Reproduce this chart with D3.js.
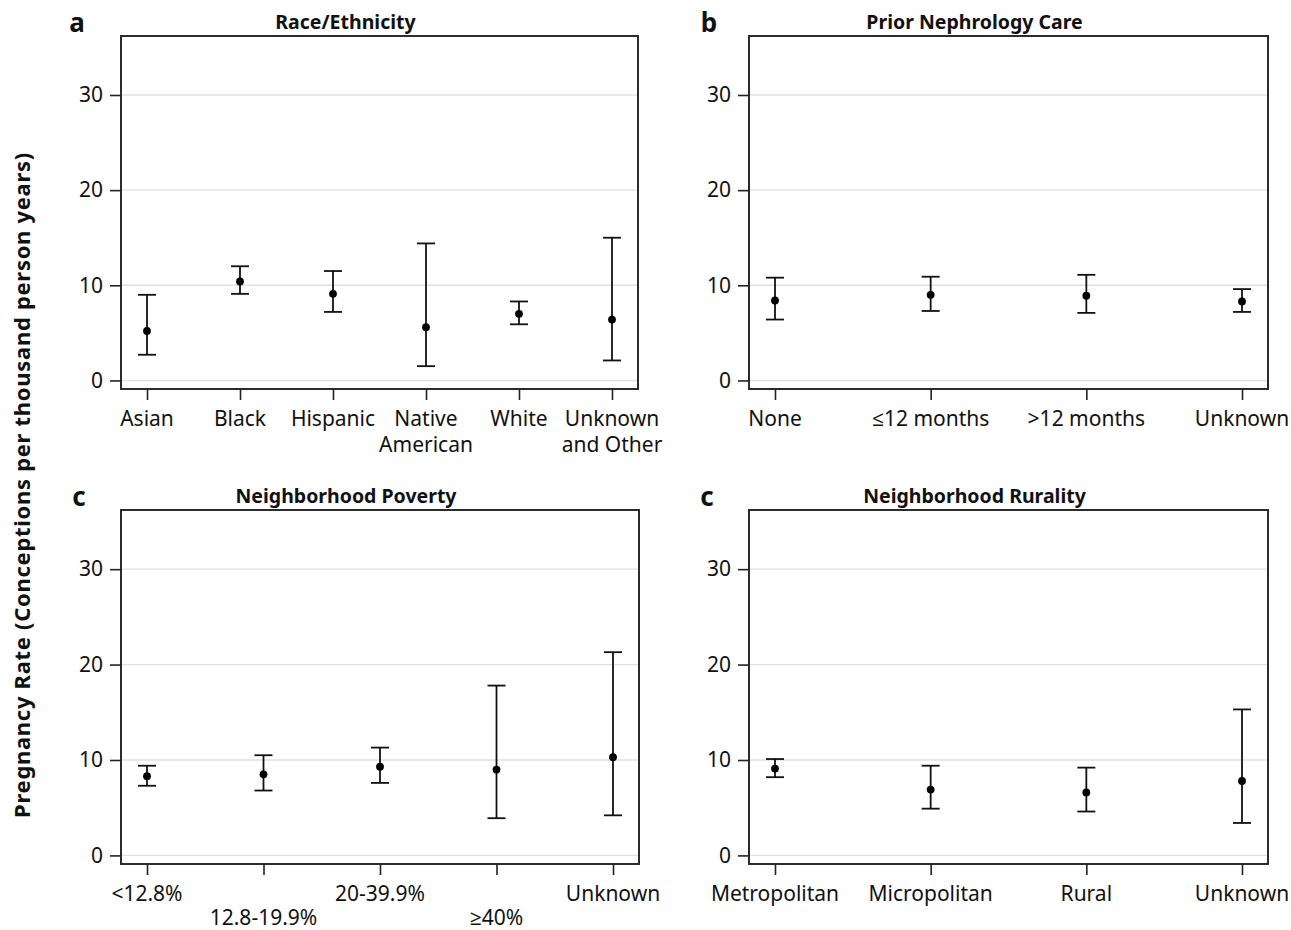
<!DOCTYPE html>
<html>
<head>
<meta charset="utf-8">
<script src="https://cdn.jsdelivr.net/npm/d3@7"></script>
<style>
  body { margin: 0; background: #fff; }
  text { font-family: "Noto Sans", "Open Sans", sans-serif; fill: #111; }
</style>
</head>
<body>
<script>
// ---- data ----
const raceCats = ["Asian", "Black", "Hispanic", "Native\nAmerican", "White", "Unknown\nand Other"]
const raceRate = [5.2, 10.4, 9.1, 5.6, 7.0, 6.4]
const raceLow = [2.7, 9.1, 7.2, 1.5, 5.9, 2.1]
const raceHigh = [9.0, 12.0, 11.5, 14.4, 8.3, 15.0]

const nephCats = ["None", "≤12 months", ">12 months", "Unknown"]
const nephRate = [8.4, 9.0, 8.9, 8.3]
const nephLow = [6.4, 7.3, 7.1, 7.2]
const nephHigh = [10.8, 10.9, 11.1, 9.6]

const povCats = ["<12.8%", "12.8-19.9%", "20-39.9%", "≥40%", "Unknown"]
const povRate = [8.3, 8.5, 9.3, 9.0, 10.3]
const povLow = [7.3, 6.8, 7.6, 3.9, 4.2]
const povHigh = [9.4, 10.5, 11.3, 17.8, 21.3]

const ruralCats = ["Metropolitan", "Micropolitan", "Rural", "Unknown"]
const ruralRate = [9.1, 6.9, 6.6, 7.8]
const ruralLow = [8.2, 4.9, 4.6, 3.4]
const ruralHigh = [10.1, 9.4, 9.2, 15.3]

const yTicks = [0, 10, 20, 30]
const yDomain = [-0.9, 36.2]

// ---- layout ----
const width = 1291
const height = 930

const svg = d3.select("body").append("svg")
  .attr("width", width)
  .attr("height", height)

function drawPanel(opt) {
  const { left, right, top, bottom, letter, title, cats, rate, low, high, stagger } = opt

  const x = d3.scalePoint().domain(cats).range([left + 26, right - 26])
  const y = d3.scaleLinear().domain(yDomain).range([bottom, top])

  const g = svg.append("g")

  // gridlines
  g.append("g").selectAll("line")
    .data(yTicks)
    .join("line")
      .attr("x1", left).attr("x2", right)
      .attr("y1", d => y(d)).attr("y2", d => y(d))
      .attr("stroke", "#e0e0e0")
      .attr("stroke-width", 1.4)

  // y axis
  const ya = g.append("g")
    .attr("transform", `translate(${left},0)`)
    .call(d3.axisLeft(y).tickValues(yTicks).tickSize(11).tickPadding(7))
  ya.select(".domain").remove()
  ya.selectAll(".tick line").attr("stroke", "#222").attr("stroke-width", 1.6)
  ya.selectAll(".tick text")
    .style("font-size", "21px")
    .attr("fill", "#111")

  // x axis
  const xa = g.append("g")
    .attr("transform", `translate(0,${bottom})`)
    .call(d3.axisBottom(x).tickSize(11).tickFormat(""))
  xa.select(".domain").remove()
  xa.selectAll(".tick line").attr("stroke", "#222").attr("stroke-width", 1.6)

  const lab = g.append("g").selectAll("text")
    .data(cats)
    .join("text")
      .attr("x", d => x(d))
      .attr("y", (d, i) => bottom + 37 + (stagger && i % 2 === 1 ? 24 : 0))
      .attr("text-anchor", "middle")
      .style("font-size", "21px")
  lab.each(function(d) {
    const parts = d.split("\n")
    d3.select(this).selectAll("tspan")
      .data(parts)
      .join("tspan")
        .attr("x", x(d))
        .attr("dy", (p, j) => j === 0 ? 0 : 26)
        .text(p => p)
  })

  // frame
  g.append("rect")
    .attr("x", left).attr("y", top)
    .attr("width", right - left).attr("height", bottom - top)
    .attr("fill", "none")
    .attr("stroke", "#222")
    .attr("stroke-width", 1.9)

  // error bars
  const idx = d3.range(cats.length)
  const eb = g.append("g").attr("stroke", "#111").attr("stroke-width", 1.8)
  eb.selectAll(".v").data(idx).join("line")
    .attr("x1", i => x(cats[i])).attr("x2", i => x(cats[i]))
    .attr("y1", i => y(low[i])).attr("y2", i => y(high[i]))
  eb.selectAll(".hi").data(idx).join("line")
    .attr("x1", i => x(cats[i]) - 9).attr("x2", i => x(cats[i]) + 9)
    .attr("y1", i => y(high[i])).attr("y2", i => y(high[i]))
  eb.selectAll(".lo").data(idx).join("line")
    .attr("x1", i => x(cats[i]) - 9).attr("x2", i => x(cats[i]) + 9)
    .attr("y1", i => y(low[i])).attr("y2", i => y(low[i]))

  g.append("g").selectAll("circle")
    .data(idx)
    .join("circle")
      .attr("cx", i => x(cats[i]))
      .attr("cy", i => y(rate[i]))
      .attr("r", 3.9)
      .attr("fill", "#000")

  // title + panel letter
  g.append("text")
    .attr("x", (left - 68 + right) / 2)
    .attr("y", top - 7)
    .attr("text-anchor", "middle")
    .style("font-size", "19.5px")
    .style("font-weight", "bold")
    .text(title)

  g.append("text")
    .attr("x", letter.x)
    .attr("y", top - 4)
    .attr("text-anchor", "middle")
    .style("font-size", "26px")
    .style("font-weight", "bold")
    .text(letter.t)
}

drawPanel({ left: 121, right: 638, top: 36, bottom: 389, letter: { t: "a", x: 77 },
  title: "Race/Ethnicity", cats: raceCats, rate: raceRate, low: raceLow, high: raceHigh })
drawPanel({ left: 749, right: 1268, top: 36, bottom: 389, letter: { t: "b", x: 709 },
  title: "Prior Nephrology Care", cats: nephCats, rate: nephRate, low: nephLow, high: nephHigh })
drawPanel({ left: 121, right: 639, top: 510, bottom: 864, letter: { t: "c", x: 79 },
  title: "Neighborhood Poverty", cats: povCats, rate: povRate, low: povLow, high: povHigh, stagger: true })
drawPanel({ left: 749, right: 1268, top: 510, bottom: 864, letter: { t: "c", x: 707 },
  title: "Neighborhood Rurality", cats: ruralCats, rate: ruralRate, low: ruralLow, high: ruralHigh })

// shared y title
svg.append("text")
  .attr("transform", "translate(30,485) rotate(-90)")
  .attr("text-anchor", "middle")
  .style("font-size", "22px")
  .style("font-weight", "bold")
  .style("letter-spacing", "0.7px")
  .text("Pregnancy Rate (Conceptions per thousand person years)")
</script>
</body>
</html>
